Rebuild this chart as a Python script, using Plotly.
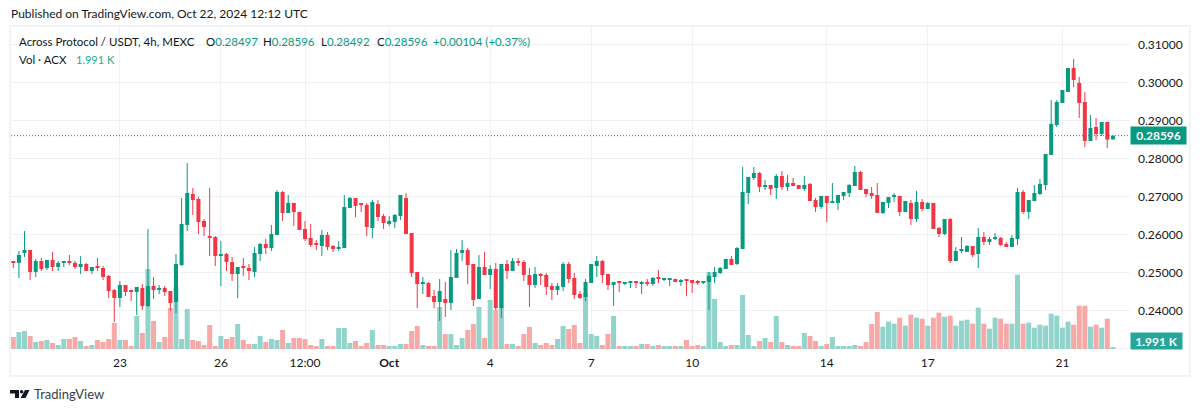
import pandas as pd
import plotly.graph_objects as go

opens = [
 .25272,.25246,.25509,.25588,.25009,.25298,.25114,.25325,.25140,.25246,
 .25272,.25246,.25140,.25219,.25035,.25140,.25114,.24904,.24535,.24325,
 .24667,.24509,.24482,.24588,.24114,.24640,.24535,.24588,.24509,.24219,
 .25193,.26246,.27061,.26930,.26351,.25930,.25930,.25430,.25482,.25272,
 .24956,.25140,.25114,.25009,.25482,.25746,.25640,.25982,.27114,.26561,
 .26825,.26588,.26140,.25904,.25746,.25693,.25982,.25693,.25614,.25640,
 .26693,.26956,.26798,.26772,.26167,.26798,.26482,.26272,.26325,.26482,
 .26956,.26035,.25009,.24693,.24719,.24377,.24219,.24298,.24193,.24851,
 .25509,.25588,.25219,.24298,.25140,.24930,.25088,.24061,.25219,.25035,
 .25298,.25272,.24930,.24667,.24930,.24930,.24640,.24535,.24614,.25219,
 .24851,.24430,.24351,.24719,.25167,.25298,.24956,.24667,.24746,.24693,
 .24719,.24746,.24693,.24746,.24693,.24851,.24798,.24798,.24825,.24746,
 .24798,.24798,.24746,.24719,.24746,.24877,.24982,.25088,.25351,.25219,
 .25614,.27088,.27482,.27614,.27246,.27298,.27219,.27535,.27246,.27351,
 .27298,.27193,.27325,.26904,.26719,.27009,.26825,.26825,.27009,.27088,
 .27272,.27640,.27193,.27088,.27035,.26561,.26825,.26982,.27009,.26588,
 .26825,.26404,.26851,.26667,.26825,.26167,.26009,.26404,.25298,.25561,
 .25535,.25693,.25482,.25930,.25798,.25877,.25904,.25746,.25667,.25877,
 .27114,.26588,.26877,.27061,.27298,.28088,.28877,.29456,.29746,.30377,
 .29982,.29482,.28456,.28825,.28640,.28956,.28497]
closes = [
 .25246,.25456,.25588,.25009,.25298,.25088,.25325,.25140,.25246,.25272,
 .25246,.25140,.25219,.25035,.25140,.25114,.24877,.24509,.24325,.24667,
 .24482,.24482,.24614,.24114,.24640,.24535,.24588,.24482,.24193,.25219,
 .26272,.27088,.26904,.26325,.26193,.25904,.25430,.25482,.25272,.24956,
 .25140,.25114,.25035,.25509,.25746,.25640,.26009,.27114,.26561,.26825,
 .26588,.26114,.25877,.25719,.25719,.25982,.25667,.25614,.25667,.26719,
 .26956,.26746,.26772,.26193,.26851,.26456,.26298,.26351,.26509,.27035,
 .26009,.24982,.24693,.24719,.24351,.24219,.24509,.24193,.24877,.25509,
 .25588,.25193,.24272,.25140,.24930,.25088,.24061,.25219,.25035,.25298,
 .25246,.24930,.24667,.24956,.24904,.24614,.24535,.24640,.25219,.24825,
 .24404,.24325,.24746,.25219,.25298,.24930,.24667,.24746,.24719,.24719,
 .24746,.24719,.24746,.24693,.24851,.24825,.24825,.24825,.24746,.24798,
 .24772,.24719,.24719,.24772,.24904,.25009,.25114,.25351,.25193,.25640,
 .27114,.27509,.27614,.27246,.27272,.27193,.27535,.27246,.27351,.27272,
 .27193,.27298,.26877,.26719,.27009,.26825,.26851,.27035,.27114,.27298,
 .27640,.27167,.27061,.27009,.26561,.26851,.26982,.27009,.26588,.26877,
 .26404,.26851,.26667,.26825,.26140,.26009,.26404,.25298,.25561,.25588,
 .25693,.25456,.25930,.25798,.25877,.25904,.25719,.25667,.25904,.27114,
 .26588,.26904,.27088,.27325,.28114,.28904,.29482,.29798,.30377,.30061,
 .29456,.28456,.28798,.28640,.28956,.28492,.28596]
highs = [
 .25298,.25561,.26088,.25588,.25351,.25377,.25325,.25535,.25298,.25272,
 .25456,.25298,.25430,.25246,.25140,.25377,.25167,.24930,.24561,.24772,
 .24667,.24509,.24614,.24693,.26140,.24877,.24667,.24640,.24509,.25482,
 .26956,.27877,.27219,.26982,.26404,.27219,.25956,.25825,.25509,.25404,
 .25140,.25377,.25219,.25667,.25772,.25877,.26246,.27167,.27140,.27035,
 .26825,.26588,.26351,.26272,.25851,.26114,.26061,.25719,.25825,.27035,
 .26982,.26956,.26798,.26825,.26904,.26904,.26535,.26482,.26535,.27035,
 .27088,.26035,.25009,.24877,.24746,.24535,.24825,.24746,.25588,.25614,
 .25851,.25640,.25219,.25456,.25535,.25193,.25246,.25219,.25325,.25377,
 .25377,.25325,.25114,.25140,.24982,.24982,.24719,.24719,.25272,.25272,
 .24982,.24509,.24825,.25219,.25430,.25325,.24956,.24746,.24746,.24746,
 .24772,.24772,.24772,.24825,.24877,.25061,.24825,.24825,.24825,.24825,
 .24825,.24798,.24798,.24772,.25009,.25140,.25140,.25351,.25430,.25667,
 .27772,.27509,.27772,.27640,.27430,.27298,.27588,.27667,.27561,.27482,
 .27298,.27535,.27351,.26956,.27009,.27009,.27351,.27035,.27114,.27325,
 .27798,.27667,.27193,.27246,.27351,.26851,.26982,.27088,.27009,.26877,
 .26904,.27140,.26930,.26851,.26825,.26193,.26404,.26430,.25667,.25930,
 .25719,.25693,.26167,.26061,.25930,.26035,.25930,.25798,.25982,.27219,
 .27167,.26904,.27298,.27456,.28114,.29535,.29535,.29798,.30377,.30614,
 .30140,.29746,.29140,.29061,.28956,.28956,.28596]
lows = [
 .25114,.24851,.25404,.24798,.24877,.25035,.25061,.25035,.25035,.25140,
 .25193,.25088,.24956,.25035,.24956,.25035,.24798,.24325,.23693,.24088,
 .24377,.24246,.23877,.24009,.24088,.24298,.24430,.24377,.23982,.23930,
 .25167,.26088,.26509,.26009,.25956,.25430,.25167,.24640,.25035,.24772,
 .24325,.24904,.24798,.24877,.25298,.25482,.25561,.25982,.26351,.26561,
 .26219,.26114,.25825,.25667,.25588,.25430,.25588,.25535,.25561,.25640,
 .26693,.26456,.26588,.25956,.25904,.26351,.26140,.26219,.26167,.26377,
 .26009,.24877,.24061,.24430,.24351,.24061,.23719,.23825,.24009,.24851,
 .25298,.24693,.24114,.24298,.24930,.24561,.24009,.23798,.24825,.25035,
 .25167,.24772,.24088,.24588,.24667,.24404,.24272,.24404,.24509,.24719,
 .24298,.24298,.24246,.24719,.24877,.24719,.24535,.24114,.24482,.24667,
 .24588,.24588,.24430,.24640,.24640,.24719,.24772,.24640,.24746,.24640,
 .24377,.24456,.24667,.24693,.24009,.24719,.24956,.25088,.25193,.25193,
 .25614,.26798,.27430,.27114,.27167,.27035,.26930,.27167,.27140,.27272,
 .27193,.27140,.26877,.26588,.26667,.26325,.26825,.26640,.26904,.26982,
 .27272,.27167,.26982,.26930,.26561,.26535,.26693,.26851,.26482,.26588,
 .26246,.26325,.26614,.26667,.26140,.25930,.25982,.25246,.25298,.25509,
 .25535,.25404,.25114,.25719,.25719,.25851,.25693,.25667,.25667,.25719,
 .26535,.26404,.26877,.27035,.27167,.28088,.28825,.29456,.29746,.29877,
 .29061,.28298,.28456,.28482,.28588,.28272,.28492]
volumes_k = [
 18,25.5,27,19.5,10.5,12,13.5,9,6,15,
 15,18,12,4.5,6,13.5,10.5,15,39,13.5,
 13.5,4.5,49.5,24,120,42,10.5,18,61.5,93,
 15,60,13.5,12,6,36,4.5,19.5,15,18,
 37.5,13.5,7.5,7.5,19.5,10.5,15,13.5,28.5,9,
 16.5,16.5,15,6,4.5,15,4.5,4.5,31.5,31.5,
 9,12,4.5,9,28.5,6,6,4.5,4.5,7.5,
 7.5,27,34.5,6,4.5,4.5,63,22.5,22.5,6,
 16.5,28.5,37.5,63,16.5,73.5,58.5,120,7.5,7.5,
 4.5,22.5,33,9,6,9,6,15,34.5,30,
 36,9,84,22.5,19.5,6,22.5,49.5,4.5,4.5,
 4.5,4.5,7.5,7.5,4.5,6,4.5,4.5,4.5,4.5,
 13.5,4.5,6,4.5,115.5,75,10.5,4.5,6,6,
 81,21,4.5,12,16.5,10.5,49.5,10.5,6,4.5,
 4.5,24,19.5,12,4.5,7.5,18,4.5,4.5,4.5,
 6,4.5,10.5,37.5,55.5,33.5,41,38,47,35,
 51.5,47,45.5,35,47,54.5,48.5,50,35,42.5,
 44,38,62,38,30.5,47,45.5,38,38,111.5,
 38,39.5,32,36.5,35,53,50,32,41,36.5,
 65,65,33.5,36.5,32,45.5,1.991]

price_ticks = [0.23, 0.24, 0.25, 0.26, 0.27, 0.28, 0.29, 0.30, 0.31]
price_labels = ["", "0.24000", "0.25000", "0.26000", "0.27000", "0.28000", "0.29000", "0.30000", "0.31000"]
time_ticks = ["2024-09-23", "2024-09-26", "2024-09-28 12:00", "2024-10-01", "2024-10-04",
              "2024-10-07", "2024-10-10", "2024-10-14", "2024-10-17", "2024-10-21"]
time_labels = ["23", "26", "12:00", "<b>Oct</b>", "4", "7", "10", "14", "17", "21"]

UP, DOWN = "#089981", "#F23645"
UP_WICK, DOWN_WICK = "rgba(8,153,129,0.999)", "rgba(242,54,69,0.999)"
VOL_UP, VOL_DOWN = "#92D3CC", "#F7A9A7"
INK, GRID, FRAME = "#131722", "#F0F1F3", "#F0F3FA"
FONT = "Lato"

L, R, T, B = 11, 1130, 27, 350
dates = pd.date_range("2024-09-19 20:00", periods=len(opens), freq="4h")
step = pd.Timedelta(hours=4)
x_range = [dates[0] - 0.41 * step, dates[0] + 199.05 * step]
step_ms = step.total_seconds() * 1000
px_ms = step_ms / 5.61

def px(x):
    return (x - L) / (R - L)

def py(y):
    return 1 - (y - T) / (B - T)

rising = [c >= o for o, c in zip(opens, closes)]

fig = go.Figure()
fig.add_trace(go.Bar(
    x=dates, y=volumes_k, yaxis="y", width=5 * px_ms,
    marker=dict(color=[VOL_UP if r else VOL_DOWN for r in rising], line_width=0),
    hoverinfo="skip", showlegend=False))
fig.add_trace(go.Bar(
    x=dates, y=[h - l for h, l in zip(highs, lows)], base=lows, yaxis="y2", width=1 * px_ms,
    marker=dict(color=[UP_WICK if r else DOWN_WICK for r in rising], line_width=0),
    hoverinfo="skip", showlegend=False))
fig.add_trace(go.Bar(
    x=dates, y=[abs(c - o) for o, c in zip(opens, closes)],
    base=[min(o, c) for o, c in zip(opens, closes)], yaxis="y2", width=4 * px_ms,
    marker=dict(color=[UP if r else DOWN for r in rising], line_width=0),
    hoverinfo="skip", showlegend=False))

def text(x, y, s, color=INK, size=12, anchor="left"):
    return dict(x=px(x), y=py(y), xref="paper", yref="paper", text=s, showarrow=False, borderpad=0,
                xanchor=anchor, yanchor="middle", font=dict(family=FONT, size=size, color=color))

o, h, l, c = opens[-1], highs[-1], lows[-1], closes[-1]
chg = c - closes[-2]
HEAD = 11.5
annotations = [
    text(10, 14, "Published on TradingView.com, Oct 22, 2024 12:12 UTC"),
    text(18, 42, "Across Protocol / USDT, 4h, MEXC", size=HEAD),
    text(205, 42, f"O<span style='color:{UP}'>{o:.5f}</span>", size=HEAD),
    text(262, 42, f"H<span style='color:{UP}'>{h:.5f}</span>", size=HEAD),
    text(320, 42, f"L<span style='color:{UP}'>{l:.5f}</span>", size=HEAD),
    text(376, 42, f"C<span style='color:{UP}'>{c:.5f}</span>", size=HEAD),
    text(432, 42, f"{chg:+.5f} ({chg / closes[-2] * 100:+.2f}%)", UP, HEAD),
    text(18, 59, "Vol · ACX", size=HEAD),
    text(75, 59, f"{volumes_k[-1]:.3f} K", "#22AB94", 11),
    text(33, 394, "TradingView", "#3A3E4A", 13),
    dict(x=px(1158.5), y=c, xref="paper", yref="y2", text=f"<b>{c:.5f}</b>", showarrow=False,
         bgcolor=UP, width=55, height=17, borderpad=0, align="center", xanchor="center",
         yanchor="middle", font=dict(family=FONT, size=12, color="white")),
    dict(x=px(1156.5), y=py(341), xref="paper", yref="paper", text=f"<b>{volumes_k[-1]:.3f} K</b>",
         showarrow=False, bgcolor="#26A69A", width=51, height=16, borderpad=0, align="center",
         xanchor="center", yanchor="middle", font=dict(family=FONT, size=12, color="white")),
]

def poly(points):
    return "M" + " L".join(f"{px(a):.5f},{py(b):.5f}" for a, b in points) + " Z"

logo = dict(type="path", xref="paper", yref="paper", fillcolor=INK, line_width=0)
shapes = [
    dict(type="rect", xref="paper", yref="paper", x0=px(10), x1=px(1190), y0=py(26), y1=py(376),
         line=dict(color=FRAME, width=2), layer="below"),
    dict(type="line", xref="paper", yref="y2", x0=0, x1=1, y0=c, y1=c,
         line=dict(color=UP, width=1, dash="1px,2px")),
    dict(logo, path=poly([(10, 390), (19, 390), (19, 398), (15, 398), (15, 393.5), (10, 393.5)])),
    dict(type="circle", xref="paper", yref="paper", fillcolor=INK, line_width=0,
         x0=px(19.9), x1=px(23.3), y0=py(390), y1=py(393.4)),
    dict(logo, path=poly([(25, 390), (29.5, 390), (25.5, 398), (20.5, 398)])),
]

fig.update_layout(
    width=1200, height=412, autosize=False,
    margin=dict(l=L, r=1200 - R, t=T, b=412 - B, pad=0),
    paper_bgcolor="white", plot_bgcolor="white",
    font=dict(family=FONT, size=12, color=INK),
    barmode="overlay", showlegend=False, hovermode=False,
    xaxis=dict(type="date", range=x_range, tickvals=time_ticks, ticktext=time_labels, tickangle=0,
               showgrid=True, gridcolor=GRID, gridwidth=1, zeroline=False, ticks="", showline=False,
               ticklabelstandoff=4, tickfont=dict(family=FONT, size=12, color=INK)),
    yaxis=dict(range=[-1.5, 483], visible=False, showgrid=False, zeroline=False, fixedrange=True),
    yaxis2=dict(overlaying="y", side="right", range=[0.229553, 0.314553], tickvals=price_ticks,
                ticktext=price_labels, showgrid=True, gridcolor=GRID, gridwidth=1, zeroline=False,
                ticks="", showline=False, ticklabelstandoff=7, anchor="x",
                tickfont=dict(family=FONT, size=12, color=INK)),
    annotations=annotations, shapes=shapes,
)
fig.write_html("out.html", config={"displayModeBar": False},
               post_script="document.body.style.margin='0';")
